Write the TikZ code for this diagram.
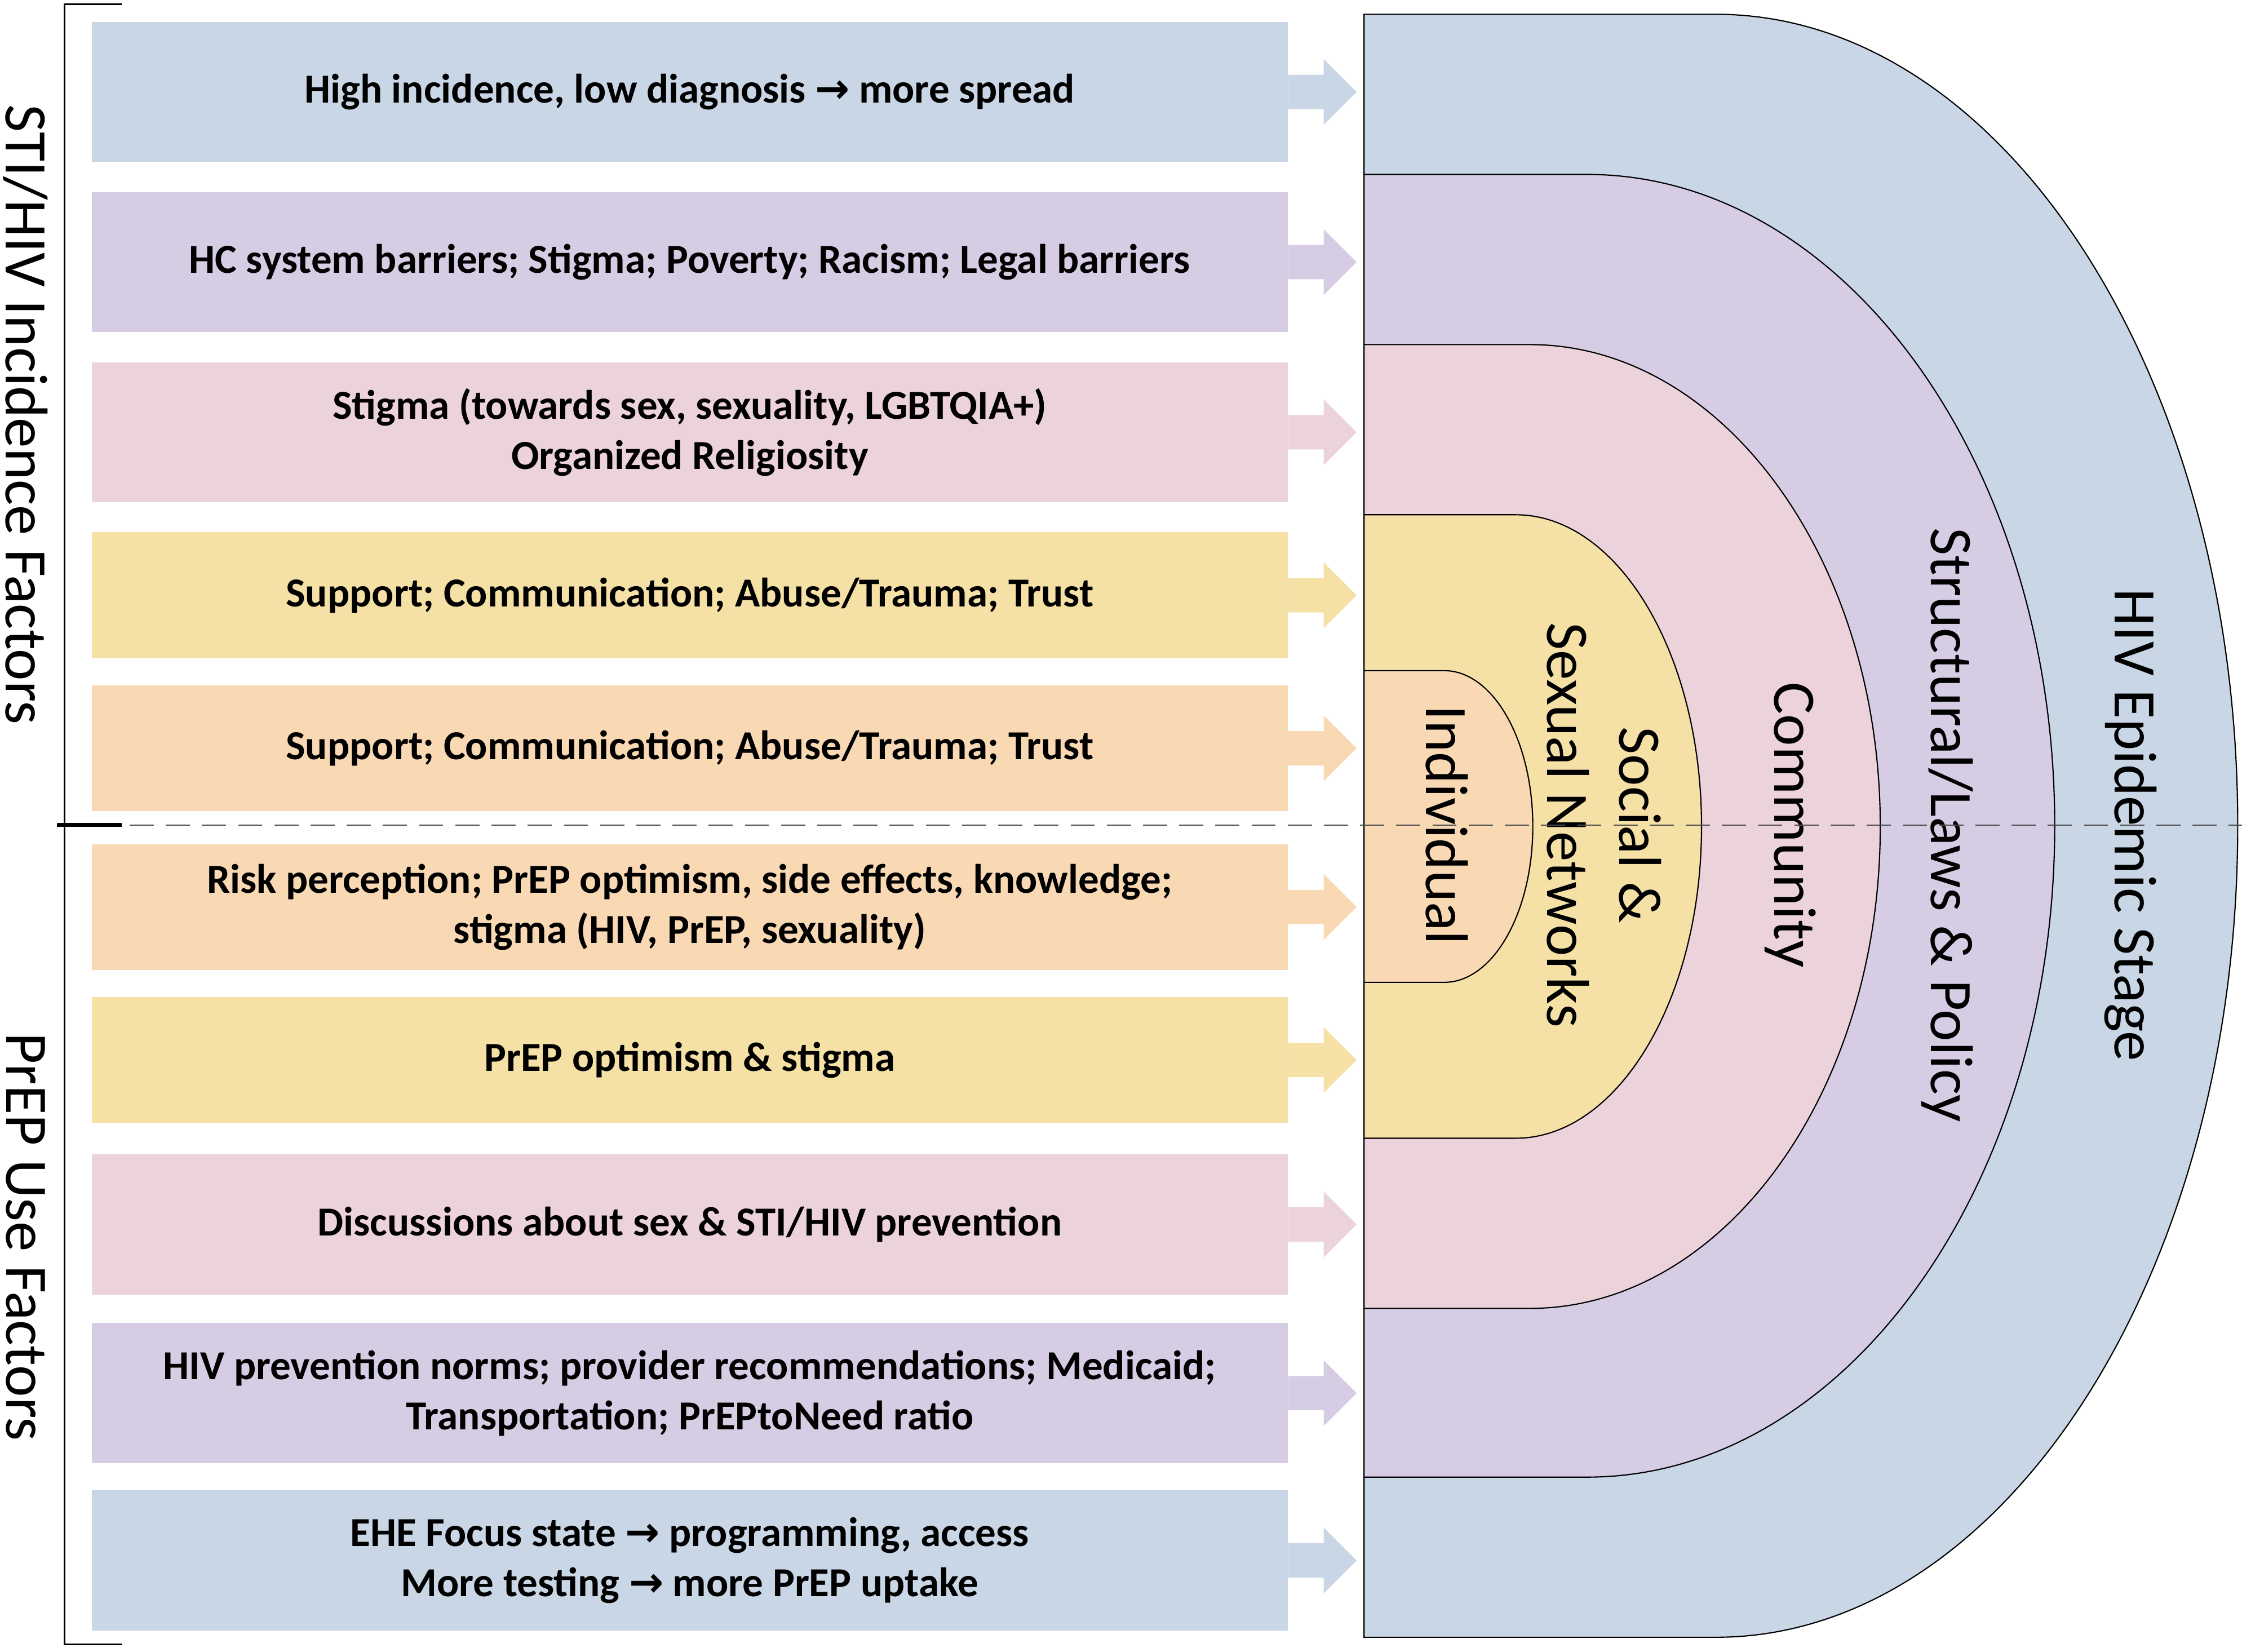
\documentclass[tikz,border=0pt]{standalone}
\usepackage{fontspec}
\setmainfont{Carlito}
\newfontfamily\arrfont{DejaVu Sans}
\definecolor{cb}{HTML}{C9D6E6}
\definecolor{cp}{HTML}{D6CDE4}
\definecolor{ck}{HTML}{ECD3DB}
\definecolor{cy}{HTML}{F5E1A6}
\definecolor{co}{HTML}{F9D8B4}
\newcommand{\rarr}{{\arrfont\bfseries →}}
\tikzset{box/.style={anchor=north west,minimum width=20.9cm,inner sep=0pt,align=center,font=\fontsize{20.5}{25}\selectfont\bfseries},
 side/.style={rotate=-90,font=\fontsize{30}{34}\selectfont},
 ring/.style={draw=black,line width=0.6pt}}
\newcommand{\barrow}[2]{\fill[#2] (#1.east) ++(0,-12) -- ++(25,0) -- ++(0,-11) -- ++(23,23) -- ++(-23,23) -- ++(0,-11) -- ++(-25,0) -- cycle;}
\newcommand{\ringshape}[6]{%
 \filldraw[ring,fill=#1] (954,#2) -- (#4,#2) .. controls ({#4+0.552*(#5-#4)},#2) and (#5,{#6-0.552*(#6-#2)}) .. (#5,#6) .. controls (#5,{#6+0.552*(#3-#6)}) and ({#4+0.552*(#5-#4)},#3) .. (#4,#3) -- (954,#3) -- cycle;}
\begin{document}
\begin{tikzpicture}[x=0.025cm,y=-0.025cm]
\useasboundingbox (0,0) rectangle (1568,1155);
\ringshape{cb}{10}{1145}{1200}{1565}{577.5}
\ringshape{cp}{122}{1033}{1110}{1437}{577.5}
\ringshape{ck}{241}{915}{1070}{1315}{578}
\ringshape{cy}{360}{796}{1060}{1190}{578}
\ringshape{co}{469}{687}{1010}{1072}{578}
\node[side] (l1) at (1490,577) {HIV Epidemic Stage};
\node[side] (l2) at (1362,577) {Structural/Laws \& Policy};
\node[side] (l3) at (1252,577) {Community};
\node[side,align=center,font=\fontsize{30}{36}\selectfont] (l4) at (1122,577) {Social \&\\Sexual Networks};
\node[side] (l5) at (1012,577) {Individual};
\node[box,fill=cb,minimum height=2.45cm] (r1) at (64,15) {High incidence, low diagnosis \rarr{} more spread};
\node[box,fill=cp,minimum height=2.45cm] (r2) at (64,134) {HC system barriers; Stigma; Poverty; Racism; Legal barriers};
\node[box,fill=ck,minimum height=2.45cm] (r3) at (64,253) {Stigma (towards sex, sexuality, LGBTQIA+)\\Organized Religiosity};
\node[box,fill=cy,minimum height=2.2cm] (r4) at (64,372) {Support; Communication; Abuse/Trauma; Trust};
\node[box,fill=co,minimum height=2.2cm] (r5) at (64,479) {Support; Communication; Abuse/Trauma; Trust};
\node[box,fill=co,minimum height=2.2cm] (r6) at (64,590) {Risk perception; PrEP optimism, side effects, knowledge;\\stigma (HIV, PrEP, sexuality)};
\node[box,fill=cy,minimum height=2.2cm] (r7) at (64,697) {PrEP optimism \& stigma};
\node[box,fill=ck,minimum height=2.45cm] (r8) at (64,807) {Discussions about sex \& STI/HIV prevention};
\node[box,fill=cp,minimum height=2.45cm] (r9) at (64,925) {HIV prevention norms; provider recommendations; Medicaid;\\Transportation; PrEPtoNeed ratio};
\node[box,fill=cb,minimum height=2.45cm] (r10) at (64,1042) {EHE Focus state \rarr{} programming, access\\More testing \rarr{} more PrEP uptake};
\barrow{r1}{cb}\barrow{r2}{cp}\barrow{r3}{ck}\barrow{r4}{cy}\barrow{r5}{co}
\barrow{r6}{co}\barrow{r7}{cy}\barrow{r8}{ck}\barrow{r9}{cp}\barrow{r10}{cb}
\draw[dash pattern=on 12pt off 6pt,line width=0.5pt,black!70] (40,577) -- (1568,577);
\draw[line width=0.8pt] (85,3) -- (45,3) -- (45,1150) -- (85,1150);
\draw[line width=2pt] (40,577) -- (85,577);
\node[side] (s1) at (18,290) {STI/HIV Incidence Factors};
\node[side] (s2) at (18,865) {PrEP Use Factors};
\end{tikzpicture}
\end{document}
